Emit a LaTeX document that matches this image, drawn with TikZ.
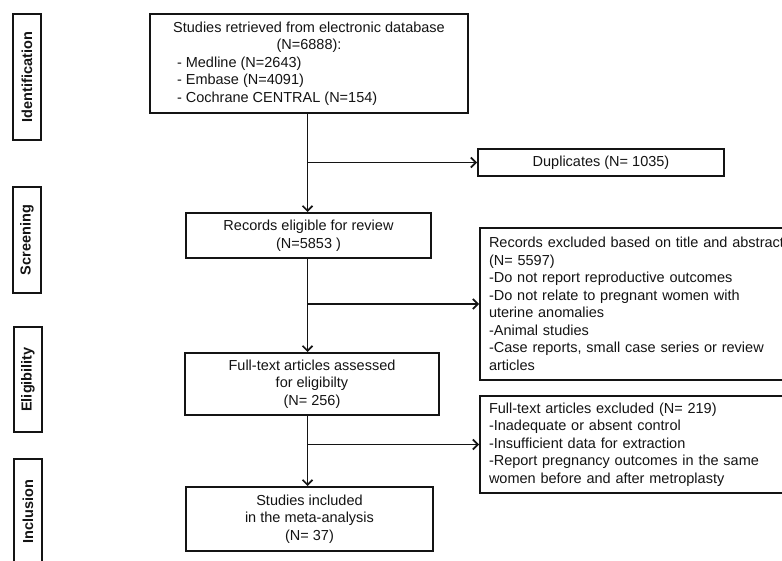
\documentclass[tikz,border=0pt]{standalone}
\usepackage{fontspec}
\setmainfont{Liberation Sans}
\usetikzlibrary{arrows.meta}
\definecolor{ink}{HTML}{141414}
\newcommand\diagfont{\fontsize{14.5}{17.5}\selectfont}
\begin{document}
\begin{tikzpicture}[x=1pt,y=-1pt,
  box/.style={draw=ink, line width=2pt, inner sep=0pt, font=\diagfont, text=ink, align=center},
  listbox/.style={draw=ink, line width=2pt, inner xsep=9pt, inner ysep=0pt, font=\diagfont, text=ink, align=left, text width=312pt, anchor=west},
  side/.style={draw=ink, line width=2.2pt, inner sep=0pt, font=\diagfont\bfseries, text=ink, rotate=90, minimum height=28pt},
  conn/.style={draw=ink, line width=1.7pt, -{Straight Barb[length=5pt,width=10pt]}}
]
\useasboundingbox[fill=white] (0,0) rectangle (782,561);

% stage labels
\node[side, minimum width=126pt] (sid) at (27,77) {Identification};
\node[side, minimum width=106pt] (sscr) at (27,240) {Screening};
\node[side, minimum width=105pt] (selig) at (28,379.5) {Eligibility};
\node[side, minimum width=105pt] (sincl) at (28,511.5) {Inclusion};

% main column
\node[box, minimum width=318pt, minimum height=99pt] (id) at (309,63.5)
  {\parbox{264pt}{\makebox[264pt][c]{Studies retrieved from electronic database}\\
   \makebox[264pt][c]{(N=6888):}\\
   - Medline (N=2643)\\
   - Embase (N=4091)\\
   - Cochrane CENTRAL (N=154)}};
\node[box, minimum width=245pt, minimum height=45pt] (rec) at (308.5,235.5)
  {Records eligible for review\\(N=5853 )};
\node[box, minimum width=254pt, minimum height=62pt] (full) at (312,384)
  {Full-text articles assessed\\for eligibilty\\(N= 256)};
\node[box, minimum width=247pt, minimum height=64pt] (incl) at (309.5,519)
  {Studies included\\in the meta-analysis\\(N= 37)};

% side column
\node[box, minimum width=246pt, minimum height=27pt] (dup) at (601,162.5)
  {Duplicates (N= 1035)};
\node[listbox, minimum height=152pt] (exc1) at (479,304)
  {Records excluded based on title and abstract\\
   (N= 5597)\\
   -Do not report reproductive outcomes\\
   -Do not relate to pregnant women with\\
   uterine anomalies\\
   -Animal studies\\
   -Case reports, small case series or review\\
   articles};
\node[listbox, minimum height=97pt] (exc2) at (479,444.5)
  {Full-text articles excluded (N= 219)\\
   -Inadequate or absent control\\
   -Insufficient data for extraction\\
   -Report pregnancy outcomes in the same\\
   women before and after metroplasty};

% connectors
\coordinate (sp) at (307.5,0);
\draw[conn] (id.south -| sp) -- (sp |- rec.north);
\coordinate (j1) at (sp |- dup.west);
\draw[conn] (j1) -- (dup.west);
\draw[conn] (rec.south -| sp) -- (sp |- full.north);
\coordinate (j2) at (sp |- exc1.west);
\draw[conn] (j2) -- (exc1.west);
\draw[conn] (full.south -| sp) -- (sp |- incl.north);
\coordinate (j3) at (sp |- exc2.west);
\draw[conn] (j3) -- (exc2.west);
\end{tikzpicture}
\end{document}
